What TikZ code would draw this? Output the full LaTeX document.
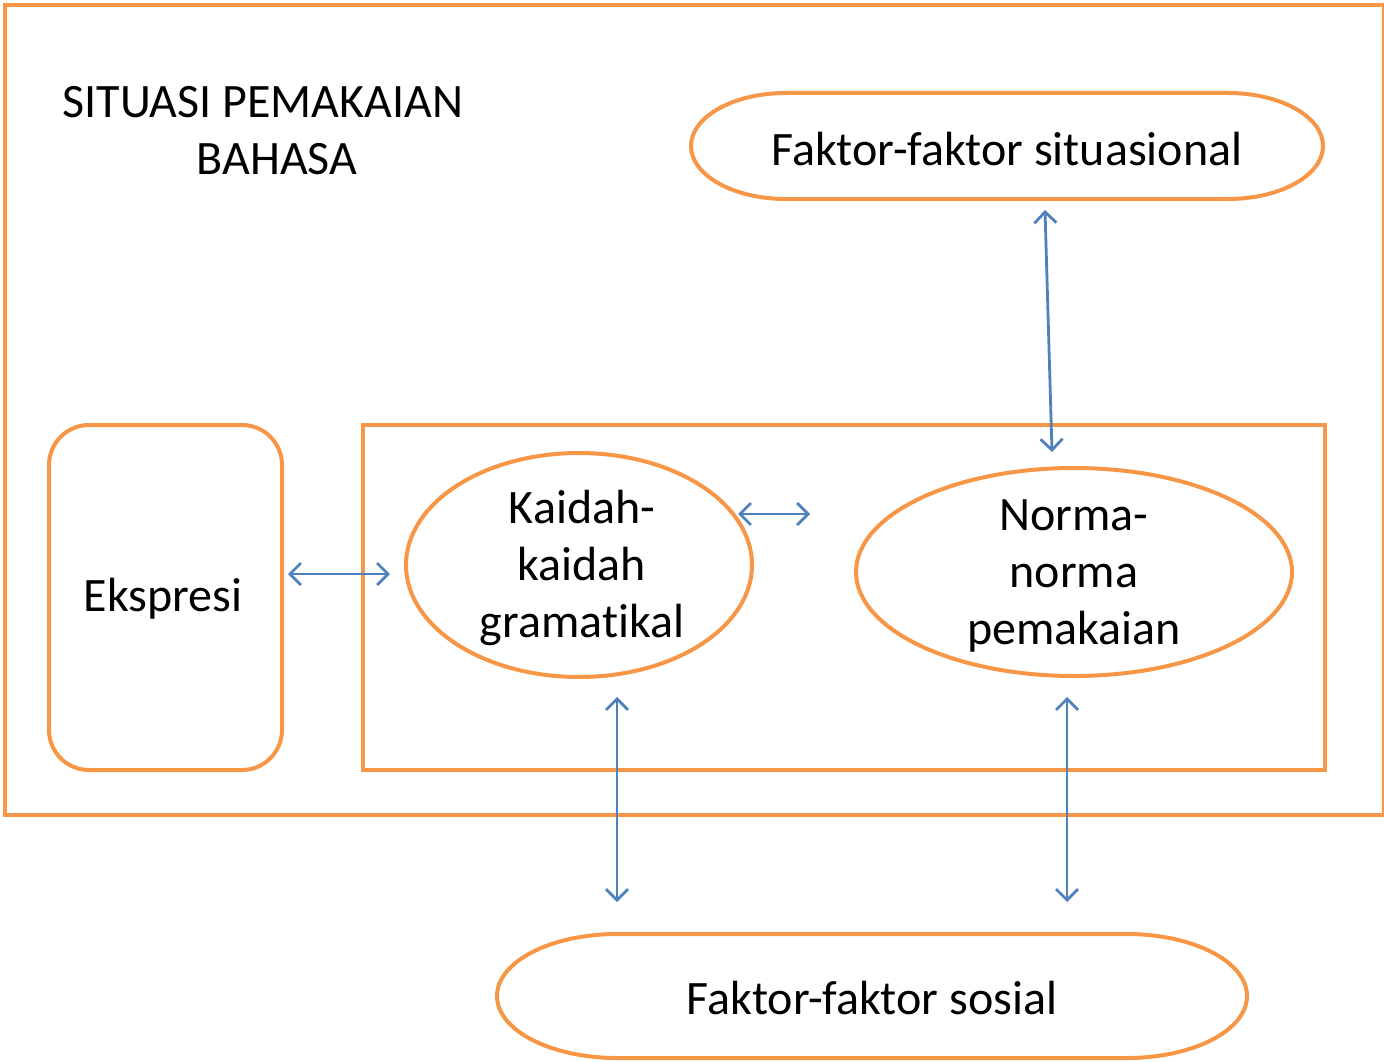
\documentclass[tikz,border=0pt]{standalone}
\usepackage{fontspec}
\setmainfont{Carlito}[Ligatures=NoCommon]
\usetikzlibrary{arrows.meta,shapes.geometric}
\definecolor{org}{HTML}{F79646}
\definecolor{blu}{HTML}{4F81BD}
\begin{document}
\begin{tikzpicture}[x=1pt,y=-1pt,
  box/.style={draw=org,line width=4pt},
  lbl/.style={font=\fontsize{48}{57}\selectfont,text=black,align=center,inner sep=0pt},
  oval/.style={draw=org,line width=4pt,ellipse,inner sep=0pt},
  conn/.style={draw=blu,line width=2.8pt,{Straight Barb[length=11pt,width=22pt,line width=2.8pt]}-{Straight Barb[length=11pt,width=22pt,line width=2.8pt]}}]
\useasboundingbox (0,0) rectangle (1384,1062);
% outer and inner frames
\node[box,minimum width=1379pt,minimum height=810pt,inner sep=0pt,anchor=north west] (outer) at (3,3) {};
\node[box,minimum width=962pt,minimum height=345pt,inner sep=0pt,anchor=north west] (inner) at (361,423) {};
% title
\node[lbl] (t1) at (263,102) {SITUASI PEMAKAIAN};
\node[lbl] (t2) at (277,159) {BAHASA};
% Ekspresi
\node[box,rounded corners=40pt,minimum width=233pt,minimum height=345pt,inner sep=0pt,anchor=north west] (eks) at (47,423) {};
\node[lbl] (ekst) at (163,599) {Ekspresi};
% ellipses
\node[oval,minimum width=346pt,minimum height=224pt] (kai) at (579,565) {};
\node[lbl] (kait) at (582,568) {Kaidah-\\kaidah\\gramatikal};
\node[oval,minimum width=436pt,minimum height=208pt] (nor) at (1074,572) {};
\node[lbl] (nort) at (1074,576) {Norma-\\norma\\pemakaian};
% capsules (elliptical ends)
\draw[box] (786,93) -- (1228,93) arc[start angle=-90,end angle=90,x radius=95,y radius=53]
  -- (786,199) arc[start angle=90,end angle=270,x radius=95,y radius=53] -- cycle;
\node[lbl] (sitt) at (1007,149) {Faktor-faktor situasional};
\draw[box] (617,934) -- (1127,934) arc[start angle=-90,end angle=90,x radius=120,y radius=62]
  -- (617,1058) arc[start angle=90,end angle=270,x radius=120,y radius=62] -- cycle;
\node[lbl] (sost) at (872,998) {Faktor-faktor sosial};
% connector endpoints
\coordinate (a1) at (288,574); \coordinate (a2) at (390,574);
\coordinate (b1) at (738,514); \coordinate (b2) at (810,514);
\coordinate (c1) at (1045,210); \coordinate (c2) at (1052,452);
\coordinate (d1) at (617,697); \coordinate (d2) at (617,902);
\coordinate (e1) at (1067,697); \coordinate (e2) at (1067,902);
\draw[conn] (a1) -- (a2);
\draw[conn] (b1) -- (b2);
\draw[conn] (c1) -- (c2);
\draw[conn] (d1) -- (d2);
\draw[conn] (e1) -- (e2);
\end{tikzpicture}
\end{document}
